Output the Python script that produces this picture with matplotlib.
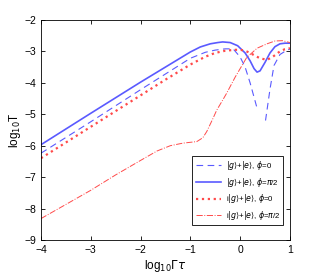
import matplotlib
matplotlib.use("Agg")
import matplotlib.pyplot as plt
import numpy as np

plt.rcParams['font.family'] = ['Liberation Sans', 'DejaVu Sans']
plt.rcParams['mathtext.fontset'] = 'dejavusans'

# |g>+|e>, phi=0 (dashed blue); NaN = log of zero, not drawn
x_ge0 = [-4, -3, -2, -1.5, -1, -0.7, -0.5, -0.3, -0.14, 0.0, 0.1, 0.2, 0.33, 0.42, 0.51, 0.6, 0.68, 0.8, 0.94, 1.0]
y_ge0 = [-6.24, -5.24, -4.22, -3.72, -3.22, -3.03, -2.96, -2.92, -2.92, -3.18, -3.5, -4.0, -4.75,
         np.nan, -5.2, -4.2, -3.45, -3.1, -2.96, -2.93]

# |g>+|e>, phi=pi/2 (solid blue)
x_gepi = [-4, -3, -2, -1.5, -1, -0.8, -0.6, -0.45, -0.35, -0.2, -0.05, 0.1, 0.2, 0.28, 0.34,
          0.4, 0.5, 0.6, 0.7, 0.8, 0.9, 1.0]
y_gepi = [-5.97, -4.97, -3.98, -3.5, -3.02, -2.86, -2.76, -2.72, -2.70, -2.72, -2.82, -3.05, -3.3,
          -3.55, -3.66, -3.62, -3.35, -3.05, -2.85, -2.76, -2.74, -2.74]

# i|g>+|e>, phi=0 (dotted red)
x_ige0 = [-4, -3, -2, -1.5, -1, -0.7, -0.5, -0.3, -0.1, 0.0, 0.1, 0.2, 0.3, 0.4, 0.54, 0.65, 0.8, 0.9, 1.0]
y_ige0 = [-6.4, -5.4, -4.4, -3.9, -3.42, -3.17, -3.05, -2.98, -2.95, -2.95, -2.98, -3.05, -3.14,
          -3.22, -3.27, -3.18, -3.0, -2.93, -2.9]

# i|g>+|e>, phi=pi/2 (dash-dot red)
x_igepi = [-4, -3.5, -3, -2.5, -2, -1.67, -1.4, -1.15, -0.87, -0.75, -0.67, -0.55, -0.47, -0.35,
           -0.27, -0.1, 0.0, 0.13, 0.34, 0.54, 0.7, 0.85, 1.0]
y_igepi = [-8.32, -7.87, -7.42, -6.93, -6.47, -6.17, -6.0, -5.92, -5.87, -5.75, -5.55, -5.15,
           -4.87, -4.55, -4.33, -3.82, -3.55, -3.2, -2.9, -2.76, -2.67, -2.66, -2.72]

blue = '#5a5aff'
red = '#ff4a4a'

fig = plt.figure(figsize=(3.2, 2.73), dpi=100)
ax = fig.add_axes([0.128, 0.121, 0.778, 0.806])

ax.plot(x_ge0, y_ge0, '--', color=blue, lw=0.8, dashes=(6, 4), label=r'$|g\rangle$+$|e\rangle$, $\phi$=0')
ax.plot(x_gepi, y_gepi, '-', color=blue, lw=1.2, label=r'$|g\rangle$+$|e\rangle$, $\phi$=$\pi$/2')
ax.plot(x_ige0, y_ige0, ':', color=red, lw=1.6, label=r'i$|g\rangle$+$|e\rangle$, $\phi$=0')
ax.plot(x_igepi, y_igepi, '-.', color=red, lw=0.7, label=r'i$|g\rangle$+$|e\rangle$, $\phi$=$\pi$/2')

ax.set_xlim(-4, 1)
ax.set_ylim(-9, -2)
ax.set_xticks([-4, -3, -2, -1, 0, 1])
ax.set_yticks([-9, -8, -7, -6, -5, -4, -3, -2])
ax.set_xticklabels(['\u22124', '\u22123', '\u22122', '\u22121', '0', '1'])
ax.set_yticklabels(['\u22129', '\u22128', '\u22127', '\u22126', '\u22125', '\u22124', '\u22123', '\u22122'])
ax.tick_params(direction='in', top=True, right=True, labelsize=7.5, length=3, width=0.6)
for s in ax.spines.values():
    s.set_linewidth(0.6)

ax.set_xlabel(r'log$_{10}\Gamma\tau$', fontsize=8.5, labelpad=2)
ax.set_ylabel(r'log$_{10}$T', fontsize=8.5, labelpad=1)

leg = ax.legend(loc='lower right', bbox_to_anchor=(0.99, 0.05), fontsize=5.7, fancybox=False,
                edgecolor='black', framealpha=1, handlelength=3.2, borderpad=0.4,
                labelspacing=0.45, handletextpad=0.6)
leg.get_frame().set_linewidth(0.6)

fig.savefig('out.png', dpi=100)
